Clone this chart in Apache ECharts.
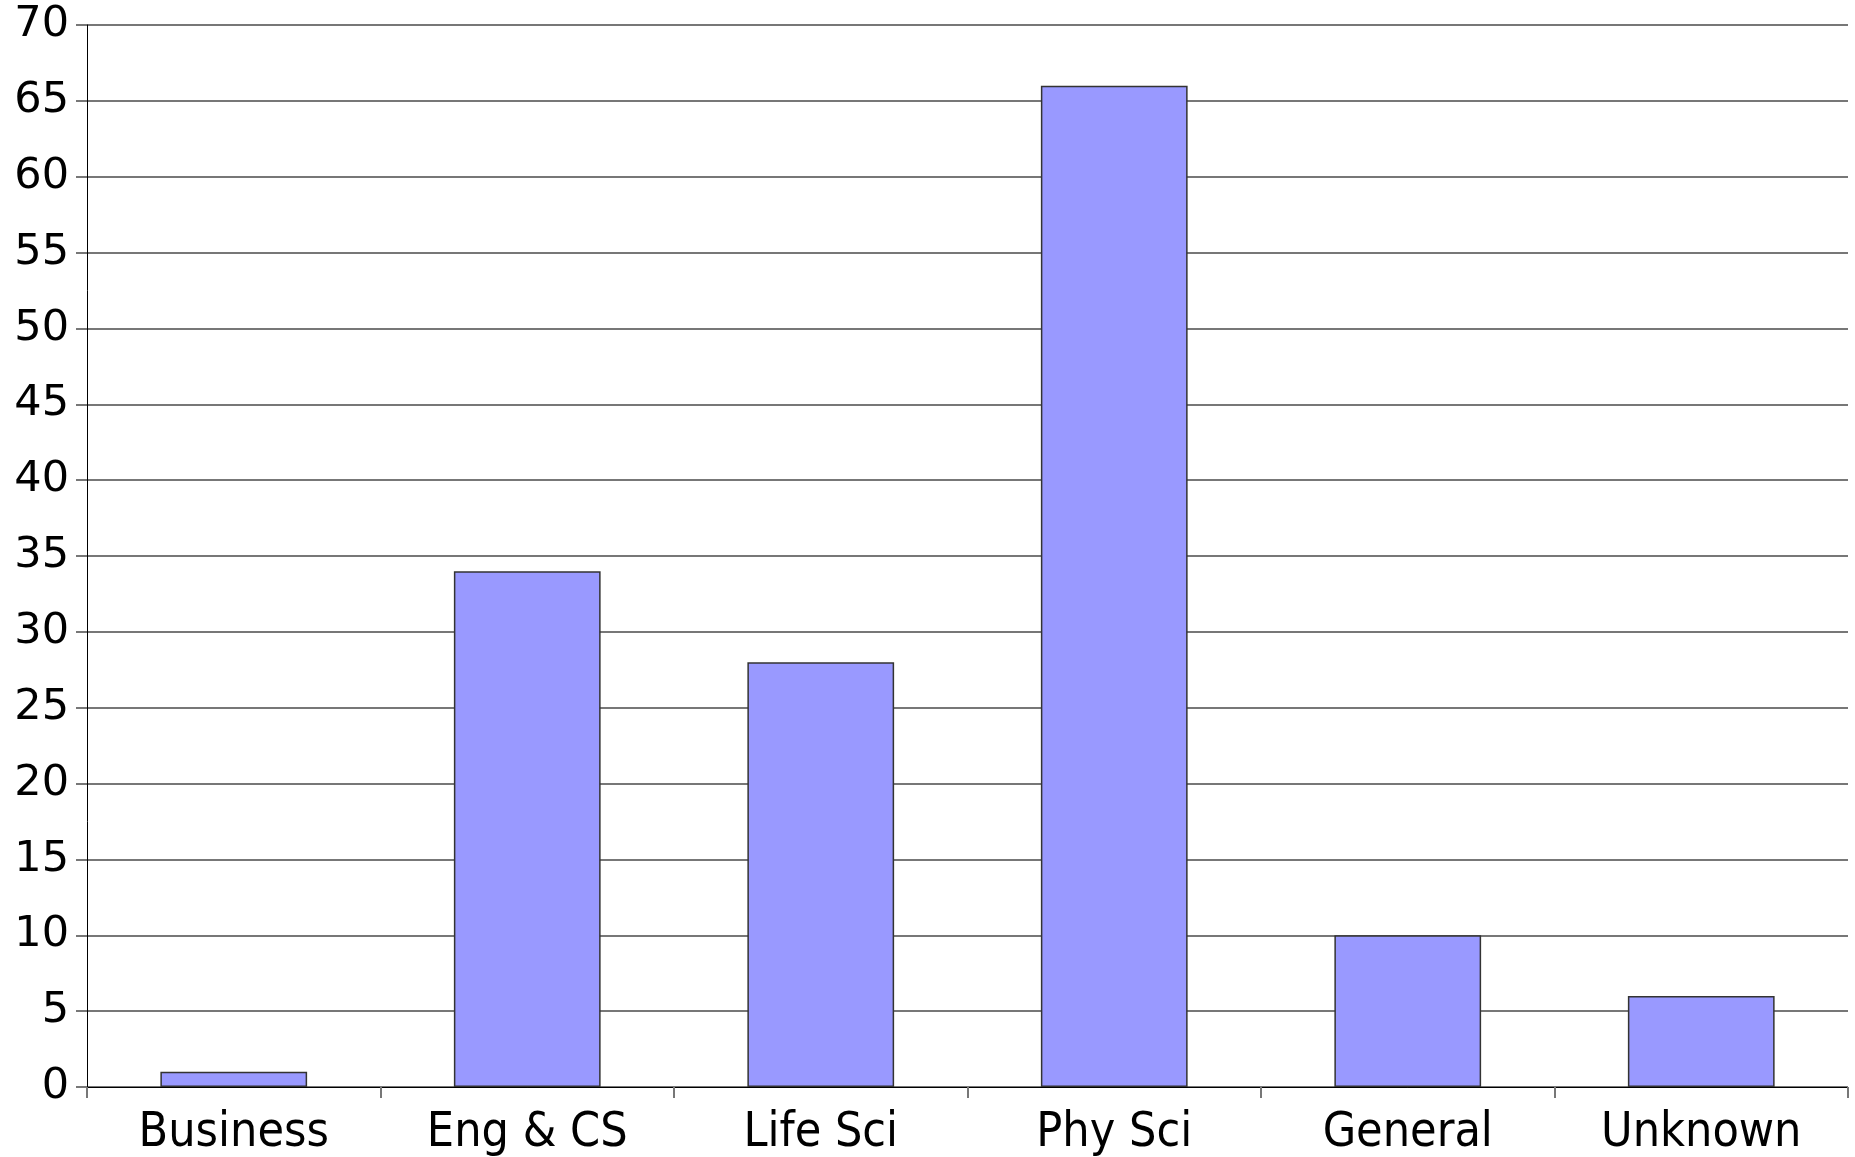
<!DOCTYPE html>
<html>
<head>
<meta charset="utf-8">
<script src="https://cdn.jsdelivr.net/npm/echarts@6/dist/echarts.min.js"></script>
<style>
html,body{margin:0;padding:0;background:#fff;}
#chart{width:1855px;height:1157px;}
</style>
</head>
<body>
<div id="chart"></div>
<script>
const categories = ['Business', 'Eng & CS', 'Life Sci', 'Phy Sci', 'General', 'Unknown'];
const values = [1, 34, 28, 66, 10, 6];

const chart = echarts.init(document.getElementById('chart'), null, {renderer: 'canvas'});
chart.setOption({
  animation: false,
  backgroundColor: '#ffffff',
  textStyle: {fontFamily: 'DejaVu Sans'},
  grid: {left: 87, right: 7, top: 25, bottom: 70, containLabel: false, outerBoundsMode: 'none'},
  xAxis: {
    type: 'category',
    data: categories,
    axisLine: {show: true, lineStyle: {color: '#000', width: 1}},
    axisTick: {show: true, length: 11, alignWithLabel: false, lineStyle: {color: '#777', width: 2}},
    axisLabel: {color: '#000', fontSize: 48, fontFamily: 'DejaVu Sans Condensed', margin: 23, interval: 0}
  },
  yAxis: {
    type: 'value',
    min: 0, max: 70, interval: 5,
    axisLine: {show: true, lineStyle: {color: '#000', width: 1}},
    axisTick: {show: true, length: 11, lineStyle: {color: '#777', width: 2}},
    axisLabel: {color: '#000', fontSize: 43, fontFamily: 'DejaVu Sans', margin: 18},
    splitLine: {show: true, lineStyle: {color: '#777', width: 2}}
  },
  series: [{
    type: 'bar',
    data: values,
    barWidth: '50%',
    itemStyle: {color: '#9999ff', borderColor: '#333', borderWidth: 1.5}
  }]
});
</script>
</body>
</html>
